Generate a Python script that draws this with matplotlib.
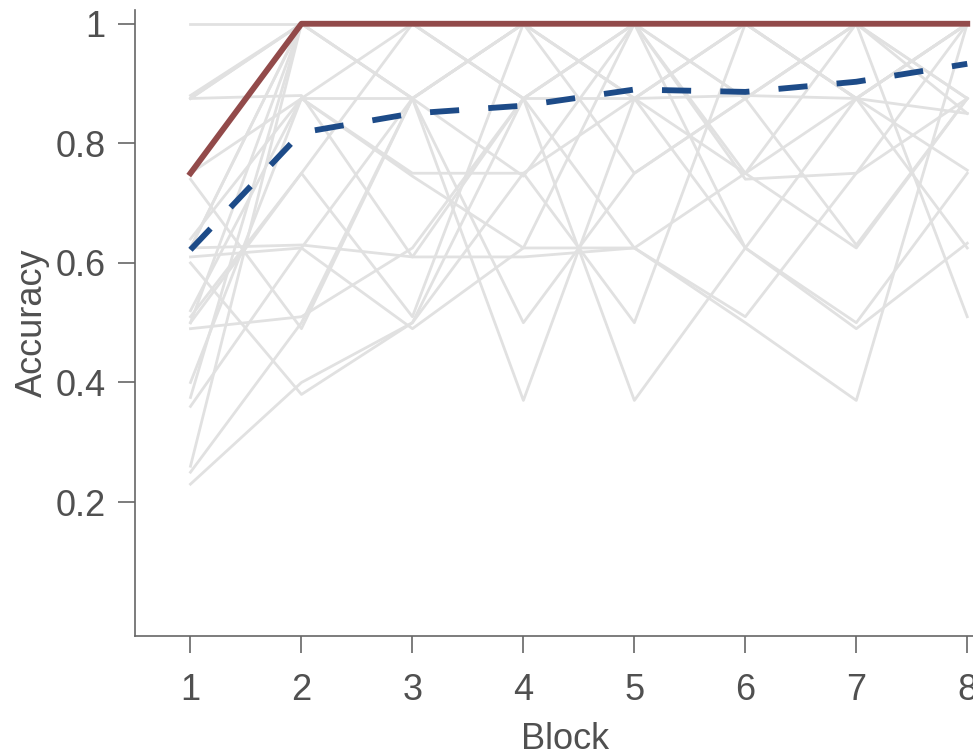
import matplotlib.pyplot as plt

blocks = [1, 2, 3, 4, 5, 6, 7, 8]

# per-subject accuracy (grey lines)
subjects = [
    [1.0, 1.0, 1.0, 1.0, 1.0, 1.0, 1.0, 1.0],
    [0.875, 1.0, 1.0, 1.0, 1.0, 1.0, 1.0, 1.0],
    [0.875, 1.0, 0.875, 1.0, 1.0, 0.875, 1.0, 1.0],
    [0.75, 1.0, 1.0, 0.875, 1.0, 1.0, 1.0, 0.875],
    [0.75, 0.875, 1.0, 1.0, 0.875, 1.0, 1.0, 1.0],
    [0.625, 1.0, 1.0, 1.0, 1.0, 1.0, 0.875, 1.0],
    [0.64, 0.875, 0.875, 1.0, 1.0, 1.0, 1.0, 1.0],
    [0.5, 1.0, 1.0, 0.875, 1.0, 0.875, 1.0, 0.875],
    [0.51, 0.75, 1.0, 1.0, 1.0, 1.0, 0.875, 1.0],
    [0.375, 1.0, 1.0, 1.0, 0.875, 1.0, 1.0, 1.0],
    [0.26, 1.0, 0.875, 1.0, 1.0, 1.0, 1.0, 1.0],
    [0.75, 1.0, 1.0, 1.0, 1.0, 0.75, 1.0, 1.0],
    [0.88, 1.0, 1.0, 0.875, 1.0, 1.0, 0.875, 1.0],
    [0.625, 1.0, 0.875, 1.0, 0.875, 1.0, 1.0, 0.85],
    [0.875, 0.88, 0.61, 0.875, 0.875, 0.88, 0.875, 0.85],
    [0.74, 0.49, 0.875, 0.745, 1.0, 0.74, 0.75, 1.0],
    [0.625, 0.63, 0.61, 0.61, 0.625, 0.75, 0.875, 0.755],
    [0.5, 0.75, 0.51, 1.0, 0.75, 0.875, 0.63, 0.875],
    [0.36, 0.625, 0.875, 0.37, 0.875, 0.625, 0.875, 0.625],
    [0.6, 0.38, 0.5, 0.875, 0.37, 0.625, 0.5, 0.75],
    [0.52, 0.875, 0.745, 0.625, 0.625, 0.5, 0.37, 1.0],
    [0.25, 0.5, 0.875, 0.5, 0.75, 0.875, 1.0, 0.51],
    [0.61, 0.625, 0.49, 0.625, 1.0, 0.625, 0.49, 0.633],
    [0.4, 0.875, 0.75, 0.75, 0.5, 1.0, 0.875, 1.0],
    [0.49, 0.51, 0.625, 0.875, 0.625, 0.51, 0.75, 0.875],
    [0.23, 0.4, 0.5, 0.75, 0.875, 0.75, 0.625, 0.875],
]

median_acc = [0.75, 1.0, 1.0, 1.0, 1.0, 1.0, 1.0, 1.0]
mean_acc = [0.622, 0.818, 0.85, 0.863, 0.89, 0.886, 0.903, 0.933]

yticks = [0.2, 0.4, 0.6, 0.8, 1.0]
ytick_labels = ['0.2', '0.4', '0.6', '0.8', '1']

text_col = '#505050'
plt.rcParams['font.family'] = ['Liberation Sans', 'DejaVu Sans']

fig = plt.figure(figsize=(9.73, 7.49), dpi=100)
ax = fig.add_axes([135 / 973, 113 / 749, 860 / 973, 626 / 749])

for s in subjects:
    ax.plot(blocks, s, color='#e1e1e1', lw=2.0, zorder=1)

ax.plot(blocks, median_acc, color='#924a4a', lw=4.2, zorder=3)
ax.plot(blocks, mean_acc, color='#1d4b88', lw=4.2, dashes=(5.0, 5.0), zorder=4)

ax.set_xlim(0.5, 8.25)
ax.set_ylim(-0.024, 1.023)
ax.set_xticks(blocks)
ax.set_yticks(yticks)
ax.set_yticklabels(ytick_labels)

for side in ['top', 'right']:
    ax.spines[side].set_visible(False)
for side in ['left', 'bottom']:
    ax.spines[side].set_color('#666666')
    ax.spines[side].set_linewidth(1.2)

ax.tick_params(axis='both', direction='out', length=12, width=1.2, color='#666666',
               labelsize=26, labelcolor=text_col)
ax.tick_params(axis='x', pad=15)
ax.tick_params(axis='y', pad=9)

ax.set_xlabel('Block', fontsize=26, color=text_col, labelpad=10)
ax.set_ylabel('Accuracy', fontsize=26, color=text_col, labelpad=4)

fig.savefig('out.png', dpi=100)
